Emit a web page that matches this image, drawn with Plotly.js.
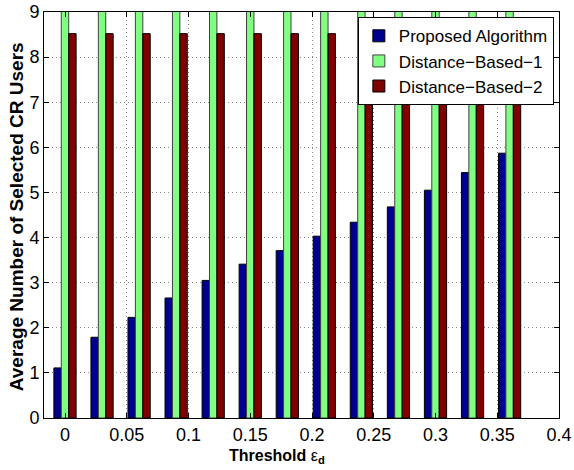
<!DOCTYPE html>
<html>
<head>
<meta charset="utf-8">
<script src="https://cdn.plot.ly/plotly-3.0.1.min.js"></script>
<style>html,body{margin:0;padding:0;background:#fff;}</style>
</head>
<body>
<div id="chart" style="width:574px;height:470px;"></div>
<script>
// Threshold values (group positions)
const thresholds = [0, 0.03, 0.06, 0.09, 0.12, 0.15, 0.18, 0.21, 0.24, 0.27, 0.30, 0.33, 0.36];
// Series values
const proposed = [1.11, 1.79, 2.23, 2.66, 3.05, 3.41, 3.71, 4.03, 4.34, 4.68, 5.05, 5.44, 5.87];
const distance1 = [10, 10, 10, 10, 10, 10, 10, 10, 10, 10, 10, 10, 10];
const distance2 = [8.52, 8.52, 8.52, 8.52, 8.52, 8.52, 8.52, 8.52, 8.52, 8.52, 8.52, 8.52, 8.52];
const seriesNames = ['Proposed Algorithm', 'Distance\u2212Based\u22121', 'Distance\u2212Based\u22122'];
const xTickVals = [0, 0.05, 0.1, 0.15, 0.2, 0.25, 0.3, 0.35, 0.4];
const xTickText = ['0', '0.05', '0.1', '0.15', '0.2', '0.25', '0.3', '0.35', '0.4'];

const FONT = 'Liberation Sans, Arial, Helvetica, sans-serif';
const colors = ['#000090', '#80FF80', '#800000'];
const lineColors = ['#000000', '#404040', '#000000'];

const traces = [proposed, distance1, distance2].map((vals, i) => ({
  type: 'bar',
  x: thresholds,
  y: vals,
  name: seriesNames[i],
  marker: {color: colors[i], line: {color: lineColors[i], width: 1}},
  hoverinfo: 'x+y'
}));

const axisCommon = {
  showline: true, linecolor: '#000', linewidth: 1, mirror: 'ticks',
  ticks: 'inside', ticklen: 5, tickcolor: '#000', tickwidth: 1,
  showgrid: true, gridcolor: '#8c8c8c', griddash: '1px,3px', gridwidth: 1,
  zeroline: false,
  tickfont: {family: FONT, size: 18, color: '#000'}
};

const layout = {
  width: 574, height: 470,
  margin: {l: 44, r: 15, t: 12, b: 52},
  paper_bgcolor: '#fff', plot_bgcolor: '#fff',
  barmode: 'group', bargap: 0.4, bargroupgap: 0,
  showlegend: true,
  legend: {
    x: 0.99, y: 0.987, xanchor: 'right', yanchor: 'top',
    bgcolor: '#fff', bordercolor: '#000', borderwidth: 1,
    font: {family: FONT, size: 17, color: '#000'},
    tracegroupgap: 0, itemwidth: 30
  },
  xaxis: Object.assign({}, axisCommon, {
    range: [-0.017, 0.4], tickvals: xTickVals, ticktext: xTickText
  }),
  yaxis: Object.assign({}, axisCommon, {
    range: [0, 9], dtick: 1, tick0: 0
  }),
  annotations: [
    {
      xref: 'paper', yref: 'paper', x: 0.452, y: -0.066, xanchor: 'center', yanchor: 'top',
      text: '<b>Threshold</b> \u03b5<sub><b>d</b></sub>', showarrow: false,
      font: {family: FONT, size: 16, color: '#000'}
    },
    {
      xref: 'paper', yref: 'paper', x: -0.054, y: 0.495, xanchor: 'center', yanchor: 'middle',
      text: '<b>Average Number of Selected CR Users</b>', textangle: -90, showarrow: false,
      font: {family: FONT, size: 19, color: '#000'}
    }
  ]
};

Plotly.newPlot('chart', traces, layout, {displayModeBar: false, staticPlot: true});
</script>
</body>
</html>
